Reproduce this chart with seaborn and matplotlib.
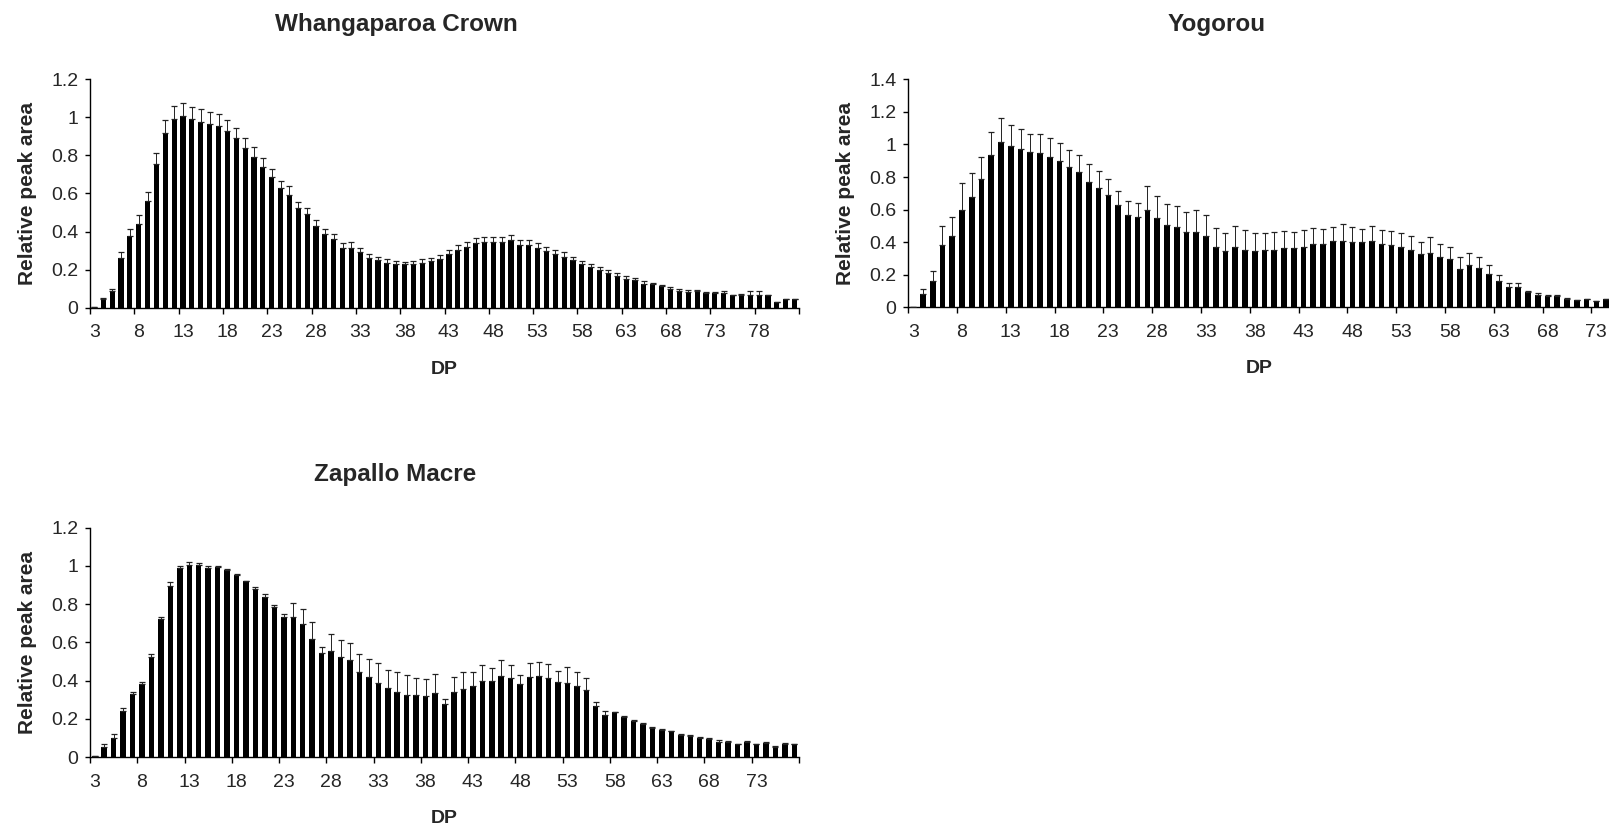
import numpy as np
import pandas as pd
import matplotlib
matplotlib.use("Agg")
import matplotlib.pyplot as plt
import seaborn as sns

sns.set_style("ticks")
plt.rcParams['font.family'] = ['Liberation Sans', 'DejaVu Sans']

# ---------------- data ----------------
dp_whang = list(range(3, 83))
val_whang = [0.004, 0.047, 0.088, 0.263, 0.377, 0.438, 0.562, 0.753, 0.92, 0.99,
             1.007, 0.99, 0.978, 0.964, 0.957, 0.93, 0.893, 0.839, 0.792, 0.738,
             0.685, 0.631, 0.592, 0.526, 0.492, 0.431, 0.385, 0.359, 0.315, 0.315,
             0.293, 0.263, 0.249, 0.236, 0.23, 0.228, 0.228, 0.237, 0.244, 0.258,
             0.28, 0.303, 0.321, 0.342, 0.345, 0.345, 0.345, 0.354, 0.331, 0.329,
             0.314, 0.298, 0.28, 0.266, 0.249, 0.231, 0.214, 0.196, 0.184, 0.166,
             0.152, 0.145, 0.126, 0.123, 0.114, 0.1, 0.086, 0.081, 0.086, 0.075,
             0.075, 0.075, 0.065, 0.065, 0.065, 0.065, 0.065, 0.028, 0.046, 0.047]
err_whang = [0.0, 0.003, 0.012, 0.028, 0.035, 0.051, 0.046, 0.058, 0.068, 0.072,
             0.07, 0.066, 0.064, 0.066, 0.059, 0.058, 0.053, 0.054, 0.051, 0.049,
             0.046, 0.035, 0.046, 0.028, 0.034, 0.028, 0.027, 0.03, 0.027, 0.032,
             0.019, 0.017, 0.016, 0.018, 0.015, 0.014, 0.016, 0.019, 0.017, 0.019,
             0.023, 0.025, 0.022, 0.024, 0.026, 0.028, 0.028, 0.03, 0.025, 0.027,
             0.024, 0.023, 0.025, 0.025, 0.016, 0.014, 0.017, 0.016, 0.014, 0.014,
             0.014, 0.009, 0.012, 0.007, 0.003, 0.009, 0.01, 0.012, 0.009, 0.007,
             0.007, 0.014, 0.003, 0.005, 0.024, 0.024, 0.003, 0.0, 0.0, 0.0]

dp_yogo = list(range(3, 75))
val_yogo = [0.0, 0.08, 0.164, 0.381, 0.44, 0.598, 0.675, 0.788, 0.935, 1.015,
            0.991, 0.97, 0.954, 0.95, 0.921, 0.898, 0.864, 0.829, 0.772, 0.735,
            0.692, 0.628, 0.569, 0.553, 0.598, 0.549, 0.508, 0.493, 0.46, 0.463,
            0.438, 0.372, 0.346, 0.372, 0.352, 0.346, 0.35, 0.354, 0.362, 0.366,
            0.372, 0.391, 0.391, 0.407, 0.409, 0.403, 0.401, 0.405, 0.389, 0.385,
            0.372, 0.352, 0.325, 0.334, 0.309, 0.295, 0.235, 0.26, 0.239, 0.205,
            0.162, 0.127, 0.127, 0.096, 0.076, 0.068, 0.068, 0.053, 0.045, 0.053,
            0.037, 0.051]
err_yogo = [0.0, 0.03, 0.061, 0.119, 0.113, 0.167, 0.148, 0.137, 0.139, 0.149,
            0.126, 0.123, 0.112, 0.116, 0.117, 0.113, 0.104, 0.104, 0.106, 0.102,
            0.098, 0.088, 0.084, 0.086, 0.147, 0.133, 0.126, 0.131, 0.127, 0.135,
            0.129, 0.117, 0.108, 0.127, 0.121, 0.108, 0.108, 0.109, 0.109, 0.097,
            0.103, 0.098, 0.09, 0.088, 0.103, 0.092, 0.08, 0.094, 0.084, 0.084,
            0.086, 0.088, 0.078, 0.1, 0.078, 0.075, 0.072, 0.072, 0.072, 0.057,
            0.037, 0.02, 0.02, 0.002, 0.014, 0.006, 0.006, 0.002, 0.0, 0.0,
            0.0, 0.0]

dp_zap = list(range(3, 78))
val_zap = [0.007, 0.052, 0.1, 0.241, 0.328, 0.38, 0.525, 0.72, 0.897, 0.989,
           1.005, 1.003, 0.987, 0.992, 0.979, 0.954, 0.921, 0.877, 0.837, 0.783,
           0.731, 0.731, 0.694, 0.619, 0.542, 0.556, 0.525, 0.508, 0.447, 0.42,
           0.389, 0.359, 0.342, 0.326, 0.323, 0.319, 0.337, 0.277, 0.34, 0.356,
           0.372, 0.398, 0.398, 0.424, 0.413, 0.384, 0.42, 0.422, 0.413, 0.391,
           0.389, 0.373, 0.352, 0.267, 0.218, 0.235, 0.209, 0.187, 0.173, 0.153,
           0.143, 0.134, 0.117, 0.11, 0.101, 0.094, 0.077, 0.077, 0.066, 0.077,
           0.066, 0.072, 0.054, 0.07, 0.066]
err_zap = [0.0, 0.018, 0.019, 0.014, 0.012, 0.014, 0.014, 0.013, 0.02, 0.009,
           0.015, 0.012, 0.012, 0.007, 0.006, 0.004, 0.002, 0.011, 0.014, 0.014,
           0.019, 0.077, 0.08, 0.089, 0.035, 0.089, 0.089, 0.09, 0.094, 0.095,
           0.101, 0.098, 0.101, 0.101, 0.091, 0.091, 0.099, 0.028, 0.079, 0.089,
           0.075, 0.082, 0.069, 0.084, 0.07, 0.045, 0.072, 0.077, 0.075, 0.061,
           0.08, 0.072, 0.063, 0.019, 0.021, 0.003, 0.006, 0.005, 0.005, 0.006,
           0.005, 0.003, 0.002, 0.003, 0.002, 0.005, 0.01, 0.009, 0.002, 0.007,
           0.002, 0.004, 0.002, 0.002, 0.002]

titles = ["Whangaparoa Crown", "Yogorou", "Zapallo Macre"]
ymaxes = [1.2, 1.4, 1.2]

# ---------------- figure ----------------
W, H = 1609, 830
fig = plt.figure(figsize=(W / 100, H / 100), dpi=100)


def px_axes(left, right, top, bottom):
    return fig.add_axes([left / W, 1 - bottom / H, (right - left) / W, (bottom - top) / H])


ax1 = px_axes(90, 799, 79.3, 307.7)
ax2 = px_axes(908.3, 1611, 79.3, 307.3)
ax3 = px_axes(90, 799, 527.7, 757)


def fmt(v):
    s = f"{v:.1f}"
    return s[:-2] if s.endswith(".0") else s


def draw(ax, dp, vals, errs, ymax):
    n = len(dp)
    df = pd.DataFrame({"DP": dp, "area": vals})
    sns.barplot(data=df, x="DP", y="area", order=dp, color="black", saturation=1,
                width=0.58, errorbar=None, linewidth=0, ax=ax)
    pos = np.arange(n)
    ax.errorbar(pos, vals, yerr=[np.zeros(n), errs], fmt="none", ecolor="#222222",
                elinewidth=0.7, capsize=2.4, capthick=0.9, zorder=3)
    ax.set_xlim(-0.5, n - 0.5)
    ax.set_ylim(0, ymax)
    yt = np.round(np.arange(0, ymax + 0.001, 0.2), 1)
    ax.set_yticks(yt)
    ax.set_yticklabels([fmt(v) for v in yt], fontsize=14)
    ax.set_xticks(pos[::5])
    ax.set_xticklabels([str(d) for d in dp[::5]], fontsize=14)
    ax.set_xticks(np.arange(-0.5, n, 5), minor=True)
    ax.tick_params(axis="x", which="major", length=0, pad=12)
    ax.tick_params(axis="x", which="minor", length=4, width=1, direction="out", color="black")
    ax.tick_params(axis="y", which="major", length=3.5, width=1, direction="out", pad=5, color="black")
    for s in ["top", "right"]:
        ax.spines[s].set_visible(False)
    for s in ["left", "bottom"]:
        ax.spines[s].set_color("black")
        ax.spines[s].set_linewidth(1)
    ax.set_xlabel("DP", fontsize=14, fontweight="bold", labelpad=14)
    ax.set_ylabel("Relative peak area", fontsize=15, fontweight="bold", labelpad=10)


draw(ax1, dp_whang, val_whang, err_whang, ymaxes[0])
draw(ax2, dp_yogo, val_yogo, err_yogo, ymaxes[1])
draw(ax3, dp_zap, val_zap, err_zap, ymaxes[2])

for (x, y), t in zip([(396, 24), (1217, 24), (395, 474)], titles):
    fig.text(x / W, 1 - y / H, t, ha="center", va="center", fontsize=17.5, fontweight="bold")

fig.savefig("out.png", dpi=100)
